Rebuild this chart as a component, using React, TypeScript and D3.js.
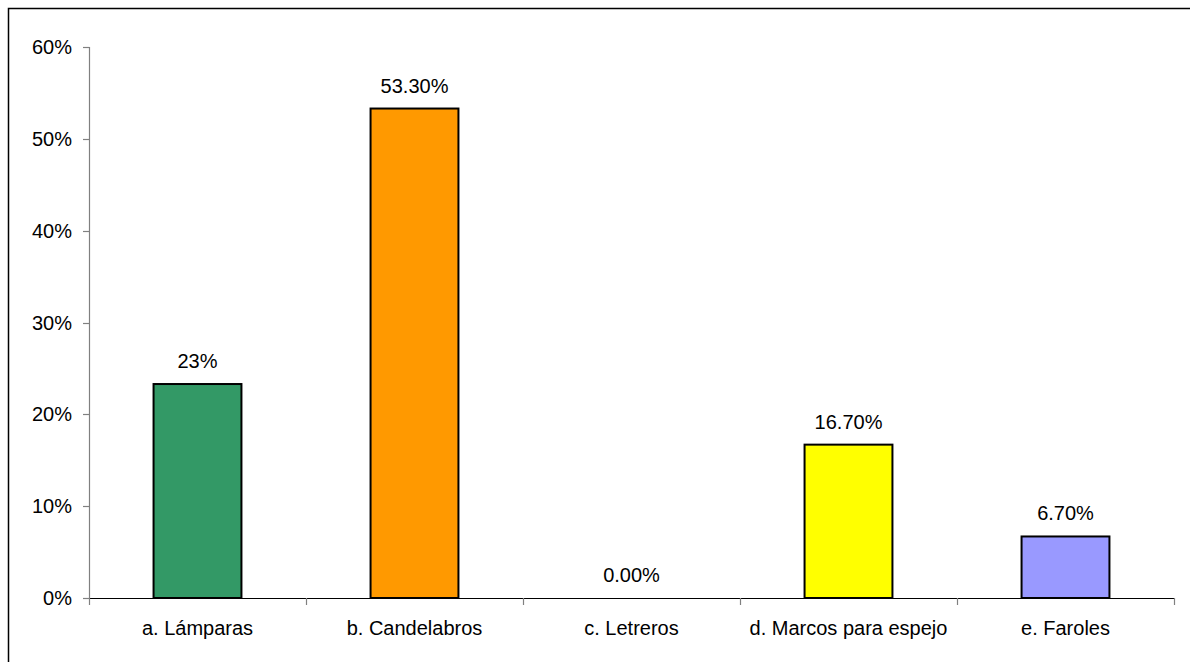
import React from "react";
import * as d3 from "d3";

const categories = ["a. Lámparas", "b. Candelabros", "c. Letreros", "d. Marcos para espejo", "e. Faroles"];
const values = [0.233, 0.533, 0.0, 0.167, 0.067];
const valueLabels = ["23%", "53.30%", "0.00%", "16.70%", "6.70%"];
const barColors = ["#339966", "#FF9900", "#FFFF00", "#FFFF00", "#9999FF"];
const yTicks = [0, 0.1, 0.2, 0.3, 0.4, 0.5, 0.6];

export default function App() {
  const W = 1190, H = 662;
  const left = 89, right = 1174, top = 47, bottom = 598;
  const x = d3.scaleBand<string>().domain(categories).range([left, right]).paddingInner(0).paddingOuter(0);
  const y = d3.scaleLinear().domain([0, 0.6]).range([bottom, top]);
  const bw = x.bandwidth() * 0.405;
  const font = "'Liberation Sans', Arial, sans-serif";
  const fmt = d3.format(".0%");
  const colors = ["#339966", "#FF9900", "#FFFF00", "#FFFF00", "#9999FF"];
  colors[2] = barColors[2];
  const boundaries = categories.map((c) => x(c) as number).concat([right]);

  return (
    <svg width={W} height={H} style={{ position: "absolute", left: 0, top: 0, background: "#fff" }}>
      <rect x={0} y={0} width={W} height={H} fill="#fff" />
      <path d={`M8.5,${H + 5} V8.5 H${W + 5}`} fill="none" stroke="#000" strokeWidth={1.5} />
      {/* y axis */}
      <line x1={left + 0.5} x2={left + 0.5} y1={top} y2={bottom} stroke="#808080" strokeWidth={1.2} />
      {yTicks.map((t) => (
        <g key={t}>
          <line x1={left - 6} x2={left + 0.5} y1={Math.round(y(t)) + 0.5} y2={Math.round(y(t)) + 0.5} stroke="#808080" strokeWidth={1.2} />
          <text x={72} y={y(t)} dy="0.35em" textAnchor="end" fontFamily={font} fontSize={20} fill="#000">
            {fmt(t)}
          </text>
        </g>
      ))}
      {/* bars */}
      {categories.map((c, i) => {
        const cx = (x(c) as number) + x.bandwidth() / 2;
        const yv = y(values[i]);
        return (
          <g key={c}>
            {values[i] > 0 && (
              <rect x={cx - bw / 2} y={yv} width={bw} height={bottom - yv} fill={colors[i]} stroke="#000" strokeWidth={2} />
            )}
            <text x={cx} y={yv - 16} textAnchor="middle" fontFamily={font} fontSize={20} fill="#000">
              {valueLabels[i]}
            </text>
            <text x={cx} y={635} textAnchor="middle" fontFamily={font} fontSize={20} fill="#000">
              {c}
            </text>
          </g>
        );
      })}
      {/* x axis */}
      <line x1={left} x2={right} y1={bottom + 0.5} y2={bottom + 0.5} stroke="#000" strokeWidth={1.2} />
      {boundaries.map((b, i) => (
        <line key={i} x1={Math.round(b) + 0.5} x2={Math.round(b) + 0.5} y1={bottom} y2={bottom + 7} stroke="#808080" strokeWidth={1.2} />
      ))}
    </svg>
  );
}
